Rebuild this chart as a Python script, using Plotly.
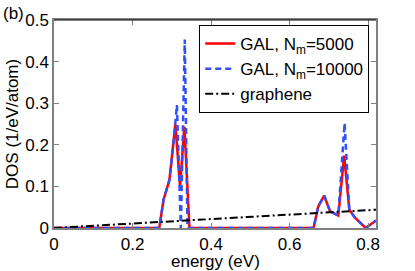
import plotly.graph_objects as go

# Data
energy_5000 = [0, 0.268, 0.279, 0.294, 0.309, 0.321, 0.332, 0.345, 0.661, 0.673, 0.688,
               0.703, 0.724, 0.739, 0.752, 0.767, 0.794, 0.82]
dos_5000 = [0, 0, 0.068, 0.116, 0.25, 0.10, 0.244, 0, 0, 0.052, 0.078,
            0.04, 0.03, 0.174, 0.044, 0.024, 0, 0.018]

energy_10000 = [0, 0.268, 0.279, 0.294, 0.304, 0.313, 0.323, 0.333, 0.340, 0.661, 0.673,
                0.688, 0.703, 0.724, 0.740, 0.752, 0.767, 0.794, 0.82]
dos_10000 = [0, 0, 0.068, 0.116, 0.20, 0.296, 0, 0.453, 0, 0, 0.052,
             0.078, 0.04, 0.03, 0.252, 0.044, 0.024, 0, 0.018]

energy_graphene = [0, 0.82]
dos_graphene = [0, 0.044]

x_ticks = [0, 0.2, 0.4, 0.6, 0.8]
x_tick_labels = ["0", "0.2", "0.4", "0.6", "0.8"]
y_ticks = [0, 0.1, 0.2, 0.3, 0.4, 0.5]
y_tick_labels = ["0", "0.1", "0.2", "0.3", "0.4", "0.5"]

FONT = "Liberation Sans, Arial, Helvetica, sans-serif"
FS = 17

fig = go.Figure()
fig.add_trace(go.Scatter(x=energy_5000, y=dos_5000, mode="lines",
                         name="GAL, N<sub>m</sub>=5000",
                         line=dict(color="#ff0000", width=2.5)))
fig.add_trace(go.Scatter(x=energy_10000, y=dos_10000, mode="lines",
                         name="GAL, N<sub>m</sub>=10000",
                         line=dict(color="#3050ff", width=2.5, dash="6px,4px")))
fig.add_trace(go.Scatter(x=energy_graphene, y=dos_graphene, mode="lines",
                         name="graphene",
                         line=dict(color="black", width=2, dash="8px,3px,2px,3px")))

axis_common = dict(showgrid=False, zeroline=False, showline=True, linecolor="#808080",
                   linewidth=1.5, mirror="ticks", ticks="inside", ticklen=5,
                   tickcolor="#808080", tickfont=dict(size=FS, color="black", family=FONT))

fig.update_xaxes(range=[0, 0.82], tickvals=x_ticks, ticktext=x_tick_labels, **axis_common)
fig.update_yaxes(range=[0, 0.5], tickvals=y_ticks, ticktext=y_tick_labels,
                 title=dict(text="DOS (1/eV/atom)", font=dict(size=FS, color="black", family=FONT),
                            standoff=2),
                 **axis_common)

fig.add_shape(type="line", xref="paper", yref="paper", x0=0, x1=1, y0=1, y1=1,
              line=dict(color="black", width=1))

fig.add_annotation(text="energy (eV)", xref="paper", yref="paper", x=0.5, y=-0.16,
                   xanchor="center", yanchor="middle", showarrow=False, borderpad=0,
                   font=dict(size=FS, color="black", family=FONT))

fig.add_annotation(text="(b)", xref="paper", yref="paper", x=-0.165, y=1.03,
                   xanchor="left", yanchor="middle", showarrow=False,
                   font=dict(size=FS, color="black", family=FONT))

fig.update_layout(
    width=415, height=271,
    margin=dict(l=54, r=39, t=20, b=43),
    paper_bgcolor="white", plot_bgcolor="white",
    font=dict(family=FONT, size=FS, color="black"),
    showlegend=True,
    legend=dict(x=0.451, y=0.976, xanchor="left", yanchor="top",
                bgcolor="white", bordercolor="black", borderwidth=1,
                font=dict(size=FS, color="black", family=FONT),
                itemwidth=30, tracegroupgap=0),
)

fig.write_html("out.html",
               config={"displayModeBar": False},
               post_script="document.body.style.margin='0';document.body.style.overflow='hidden';")
